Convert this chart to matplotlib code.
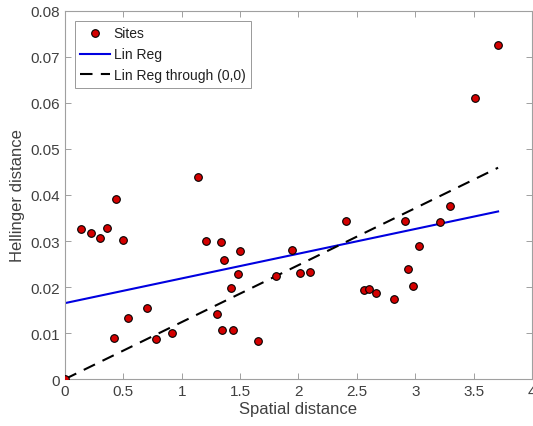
import numpy as np
import matplotlib.pyplot as plt

plt.rcParams['font.family'] = ['Liberation Sans', 'DejaVu Sans']

# values
spatial = [0.0, 0.137, 0.22, 0.30, 0.356, 0.44, 0.50, 0.42, 0.536, 0.70,
           0.78, 0.92, 1.14, 1.21, 1.34, 1.36, 1.50, 1.48, 1.42, 1.305,
           1.345, 1.44, 1.65, 1.81, 1.943, 2.01, 2.10, 2.41, 2.56, 2.60,
           2.66, 2.82, 2.91, 2.94, 2.98, 3.03, 3.21, 3.30, 3.51, 3.71]
hellinger = [0.0, 0.0326, 0.0318, 0.0307, 0.0329, 0.0391, 0.0303, 0.0089, 0.0133, 0.0154,
             0.0086, 0.0099, 0.0440, 0.0299, 0.0298, 0.0259, 0.0278, 0.0229, 0.0197, 0.0142,
             0.0106, 0.0106, 0.0083, 0.0224, 0.0281, 0.0230, 0.0232, 0.0344, 0.0194, 0.0196,
             0.0188, 0.0175, 0.0343, 0.0240, 0.0203, 0.0290, 0.0342, 0.0375, 0.0610, 0.0727]

# fitted lines
linreg_intercept = 0.0165
linreg_slope = 0.00537
origin_slope = 0.01238

xticks = [0, 0.5, 1, 1.5, 2, 2.5, 3, 3.5, 4]
xticklabels = ['0', '0.5', '1', '1.5', '2', '2.5', '3', '3.5', '4']
yticks = [0, 0.01, 0.02, 0.03, 0.04, 0.05, 0.06, 0.07, 0.08]
yticklabels = ['0', '0.01', '0.02', '0.03', '0.04', '0.05', '0.06', '0.07', '0.08']

txt = '#404040'

fig = plt.figure(figsize=(5.33, 4.27), dpi=100)
ax = fig.add_axes([0.122, 0.110, 0.876, 0.862])

xfit = np.array([0, max(spatial)])
ax.plot(spatial, hellinger, 'o', color='#d40000', markeredgecolor='black',
        markeredgewidth=0.8, markersize=5.5, label='Sites', zorder=3)
ax.plot(xfit, linreg_intercept + linreg_slope * xfit, color='#0000e0',
        linewidth=1.5, label='Lin Reg')
ax.plot(xfit, origin_slope * xfit, color='black', linewidth=1.5,
        dashes=(6, 4), label='Lin Reg through (0,0)')

ax.set_xlim(0, 4)
ax.set_ylim(0, 0.08)
ax.set_xticks(xticks)
ax.set_xticklabels(xticklabels)
ax.set_yticks(yticks)
ax.set_yticklabels(yticklabels)
ax.tick_params(direction='in', top=True, right=True, length=4, width=0.6,
               colors='#909090', labelsize=11, labelcolor=txt)
for s in ax.spines.values():
    s.set_color('#a0a0a0')
    s.set_linewidth(0.8)

ax.set_xlabel('Spatial distance', fontsize=12, color=txt, labelpad=2)
ax.set_ylabel('Hellinger distance', fontsize=12, color=txt, labelpad=4)

leg = ax.legend(loc='upper left', bbox_to_anchor=(0.021, 0.973), fontsize=10,
                frameon=True, fancybox=False, edgecolor='#808080',
                handlelength=2.1, handletextpad=0.3, borderpad=0.4,
                labelspacing=0.5, borderaxespad=0)
leg.get_frame().set_linewidth(0.7)
for t in leg.get_texts():
    t.set_color('#202020')

fig.savefig('out.png', dpi=100)
